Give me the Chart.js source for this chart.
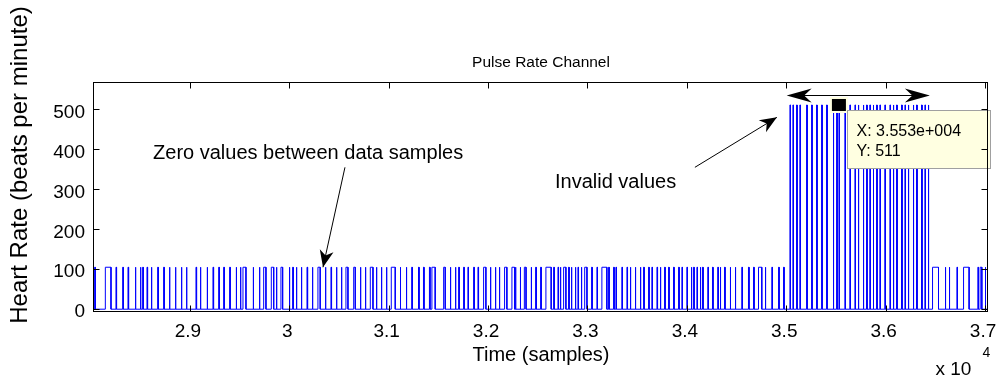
<!DOCTYPE html>
<html>
<head>
<meta charset="utf-8">
<script src="https://cdn.jsdelivr.net/npm/chart.js@4.4.0/dist/chart.umd.min.js"></script>
<style>
  html, body { margin: 0; padding: 0; background: #fff; }
</style>
</head>
<body>
<canvas id="pulse-chart" width="997" height="379"></canvas>
<script>
const xMin = 28035, xMax = 37030;
const yMin = -7, yMax = 567;
const xTickValues = [29000, 30000, 31000, 32000, 33000, 34000, 35000, 36000, 37000];
const xTickLabels = ['2.9', '3', '3.1', '3.2', '3.3', '3.4', '3.5', '3.6', '3.7'];
const yTickValues = [0, 100, 200, 300, 400, 500];

// pulse rate samples (sample index where each reading rises from zero)
const validRate = 105;
const validStart = [
  28042, 28149, 28256, 28324, 28377, 28450, 28501, 28525, 28568, 28611,
  28676, 28736, 28793, 28853, 28913, 28964, 29061, 29104, 29172, 29232,
  29290, 29340, 29400, 29464, 29507, 29534, 29635, 29698, 29742, 29819,
  29869, 29916, 29999, 30034, 30070, 30120, 30178, 30231, 30288, 30362,
  30419, 30473, 30523, 30570, 30648, 30714, 30764, 30815, 30875, 30925,
  30976, 31026, 31115, 31176, 31232, 31300, 31350, 31410, 31435, 31553,
  31619, 31670, 31704, 31754, 31797, 31855, 31898, 31955, 32022, 32072,
  32112, 32166, 32240, 32274, 32322, 32365, 32432, 32479, 32529, 32582,
  32660, 32703, 32726, 32760, 32810, 32837, 32877, 32904, 32937, 32972,
  33042, 33095, 33145, 33213, 33263, 33286, 33346, 33397, 33430, 33480,
  33531, 33565, 33615, 33648, 33699, 33732, 33776, 33816, 33866, 33917,
  33950, 34000, 34044, 34068, 34101, 34134, 34158, 34211, 34258, 34311,
  34335, 34379, 34435, 34486, 34553, 34620, 34671, 34721, 34788, 34855,
  34923, 34973,
  36472, 36599, 36639, 36717, 36784, 36928, 36951, 37001
];
const invalidRate = 511;
const invalidStart = [
  35037, 35067, 35104, 35137, 35205, 35255, 35305, 35356, 35406, 35472,
  35507, 35530, 35590, 35640, 35691, 35724, 35774, 35808, 35841, 35874,
  35909, 35942, 35992, 36043, 36076, 36110, 36160, 36194, 36227, 36277,
  36311, 36361, 36395, 36428
];
// most readings last a few samples, these ones are longer
const narrowWidth = 6;
const wideStart = [28149, 29534, 29742, 29819, 29916, 30288, 30570, 30648, 30815, 31026,
  31435, 31553, 31955, 32166, 32240, 32365, 32582, 32760, 32972, 33145, 34721, 36472, 36784, 36951];
const wideWidth = [57, 30, 23, 24, 17, 23, 20, 16, 27, 40,
  33, 16, 23, 23, 27, 17, 53, 23, 23, 50, 33, 60, 56, 17];

// annotations, in data units
const tipPoint = [35530, 511];
const zeroNote = [28629, 390];
const zeroArrow = [30560, 355, 30339, 105];
const invalidNote = [32673, 317];
const invalidArrow = [34081, 355, 34906, 480];
const spanArrow = [35004, 36445, 537];

const FONT = '"Liberation Sans", Arial, sans-serif';
Chart.defaults.font.family = FONT;
Chart.defaults.color = '#000';

function widthOf(s) {
    const i = wideStart.indexOf(s);
    return i >= 0 ? wideWidth[i] : narrowWidth;
}

const pulses = validStart.map(s => ({ s, h: validRate }))
    .concat(invalidStart.map(s => ({ s, h: invalidRate })))
    .sort((a, b) => a.s - b.s);

const points = [{ x: xMin, y: 0 }];
pulses.forEach(p => {
    const e = p.s + widthOf(p.s);
    points.push({ x: p.s, y: 0 }, { x: p.s, y: p.h }, { x: e, y: p.h }, { x: e, y: 0 });
});
points.push({ x: xMax, y: 0 });

function arrowHead(ctx, x0, y0, x1, y1, len, half) {
    const a = Math.atan2(y1 - y0, x1 - x0);
    const c = Math.cos(a), s = Math.sin(a);
    const bx = x1 - c * len, by = y1 - s * len;
    ctx.beginPath();
    ctx.moveTo(x1, y1);
    ctx.lineTo(bx - s * half, by + c * half);
    ctx.lineTo(x1 - c * len * 0.7, y1 - s * len * 0.7);
    ctx.lineTo(bx + s * half, by - c * half);
    ctx.closePath();
    ctx.fill();
}

function arrow(ctx, x0, y0, x1, y1, len, half) {
    ctx.beginPath();
    ctx.moveTo(x0, y0);
    ctx.lineTo(x1, y1);
    ctx.stroke();
    arrowHead(ctx, x0, y0, x1, y1, len, half);
}

const notes = {
    id: 'notes',
    afterDatasetsDraw(chart) {
        const { ctx, scales: { x, y } } = chart;
        const px = v => x.getPixelForValue(v);
        const py = v => y.getPixelForValue(v);
        ctx.save();
        ctx.fillStyle = '#000';
        ctx.strokeStyle = '#000';
        ctx.lineWidth = 1;
        ctx.font = '20px ' + FONT;
        ctx.textBaseline = 'middle';
        ctx.textAlign = 'left';
        ctx.fillText('Zero values between data samples', px(zeroNote[0]), py(zeroNote[1]));
        ctx.fillText('Invalid values', px(invalidNote[0]), py(invalidNote[1]));

        arrow(ctx, px(zeroArrow[0]), py(zeroArrow[1]), px(zeroArrow[2]), py(zeroArrow[3]), 17, 7);
        arrow(ctx, px(invalidArrow[0]), py(invalidArrow[1]), px(invalidArrow[2]), py(invalidArrow[3]), 17, 7);

        // double arrow over the invalid block
        const ax0 = px(spanArrow[0]), ax1 = px(spanArrow[1]), ay = Math.round(py(spanArrow[2])) + 0.5;
        ctx.beginPath();
        ctx.moveTo(ax0 + 10, ay);
        ctx.lineTo(ax1 - 10, ay);
        ctx.stroke();
        arrowHead(ctx, ax1, ay, ax0, ay, 25, 7);
        arrowHead(ctx, ax0, ay, ax1, ay, 25, 7);

        // data tip
        const mx = px(tipPoint[0]), my = py(tipPoint[1]);
        ctx.fillStyle = 'rgb(255,255,225)';
        ctx.fillRect(mx - 9, my - 8, 18, 16);
        ctx.fillStyle = '#000';
        ctx.fillRect(mx - 7, my - 6, 14, 12);

        const bx = Math.round(mx) + 8.5, by = Math.round(my) + 5.5;
        ctx.fillStyle = 'rgb(255,255,225)';
        ctx.fillRect(bx, by, 143, 58);
        ctx.strokeStyle = '#a0a0a0';
        ctx.strokeRect(bx, by, 143, 58);
        ctx.fillStyle = '#000';
        ctx.font = '16px ' + FONT;
        ctx.fillText('X: ' + tipPoint[0].toExponential(3).replace(/e\+(\d+)/, (m, d) => 'e+' + d.padStart(3, '0')), bx + 9, by + 21);
        ctx.fillText('Y: ' + tipPoint[1], bx + 9, by + 41);
        ctx.restore();
    },
    afterDraw(chart) {
        const { ctx, chartArea: { left, right, top, bottom }, scales: { x, y } } = chart;
        ctx.save();
        ctx.strokeStyle = '#000';
        ctx.lineWidth = 1;
        const l = Math.round(left) - 0.5, r = Math.round(right) - 0.5;
        const t = Math.round(top) - 0.5, b = Math.round(bottom) - 0.5;
        ctx.strokeRect(l, t, r - l, b - t);
        ctx.beginPath();
        yTickValues.forEach(v => {
            const yy = Math.round(y.getPixelForValue(v)) + 0.5;
            ctx.moveTo(l, yy); ctx.lineTo(l + 6, yy);
            ctx.moveTo(r, yy); ctx.lineTo(r - 6, yy);
        });
        xTickValues.forEach(v => {
            const xx = Math.round(x.getPixelForValue(v)) + 0.5;
            ctx.moveTo(xx, b); ctx.lineTo(xx, b - 6);
            ctx.moveTo(xx, t); ctx.lineTo(xx, t + 6);
        });
        ctx.stroke();

        ctx.fillStyle = '#000';
        ctx.textBaseline = 'middle';
        ctx.textAlign = 'left';
        ctx.font = '19px ' + FONT;
        ctx.fillText('x 10', r - 52, b + 58);
        ctx.font = '14px ' + FONT;
        ctx.fillText('4', r - 5, b + 42);

        // y axis title, centred like the original figure
        ctx.save();
        ctx.translate(20, 165);
        ctx.rotate(-Math.PI / 2);
        ctx.textAlign = 'center';
        ctx.font = '24px ' + FONT;
        ctx.fillText('Heart Rate (beats per minute)', 0, 0);
        ctx.restore();
        ctx.restore();
    }
};

const pulseChart = document.getElementById('pulse-chart');

new Chart(pulseChart, {
    type: 'line',
    data: {
        datasets: [{
            label: 'Pulse Rate',
            data: points,
            borderColor: 'rgb(0,0,255)',
            borderWidth: 1,
            pointRadius: 0,
            tension: 0,
            fill: false
        }]
    },
    options: {
        responsive: false,
        animation: false,
        layout: {
            padding: { left: 0, right: 9, top: 0, bottom: 0 }
        },
        plugins: {
            legend: { display: false },
            tooltip: { enabled: false },
            title: {
                display: true,
                fullSize: false,
                text: 'Pulse Rate Channel',
                color: '#000',
                font: { size: 15.5, weight: 'normal' },
                padding: { top: 53, bottom: 11 }
            }
        },
        scales: {
            x: {
                type: 'linear',
                min: xMin,
                max: xMax,
                grid: { display: false, drawTicks: false },
                border: { display: false },
                afterBuildTicks: scale => {
                    scale.ticks = xTickValues.map(v => ({ value: v }));
                },
                afterFit: scale => {
                    scale.height = 67;
                    scale.paddingLeft = 0;
                    scale.paddingRight = 0;
                },
                ticks: {
                    autoSkip: false,
                    maxRotation: 0,
                    padding: 8,
                    labelOffset: -2,
                    font: { size: 19 },
                    callback: (v, i) => xTickLabels[i]
                },
                title: {
                    display: true,
                    text: 'Time (samples)',
                    font: { size: 20 },
                    padding: { top: 0, bottom: 12 }
                }
            },
            y: {
                min: yMin,
                max: yMax,
                grid: { display: false, drawTicks: false },
                border: { display: false },
                afterBuildTicks: scale => {
                    scale.ticks = yTickValues.map(v => ({ value: v }));
                },
                afterFit: scale => {
                    scale.width = 94;
                    scale.paddingTop = 0;
                    scale.paddingBottom = 0;
                },
                ticks: {
                    padding: 9,
                    labelOffset: 3,
                    font: { size: 19 }
                }
            }
        }
    },
    plugins: [notes]
});
</script>
</body>
</html>
